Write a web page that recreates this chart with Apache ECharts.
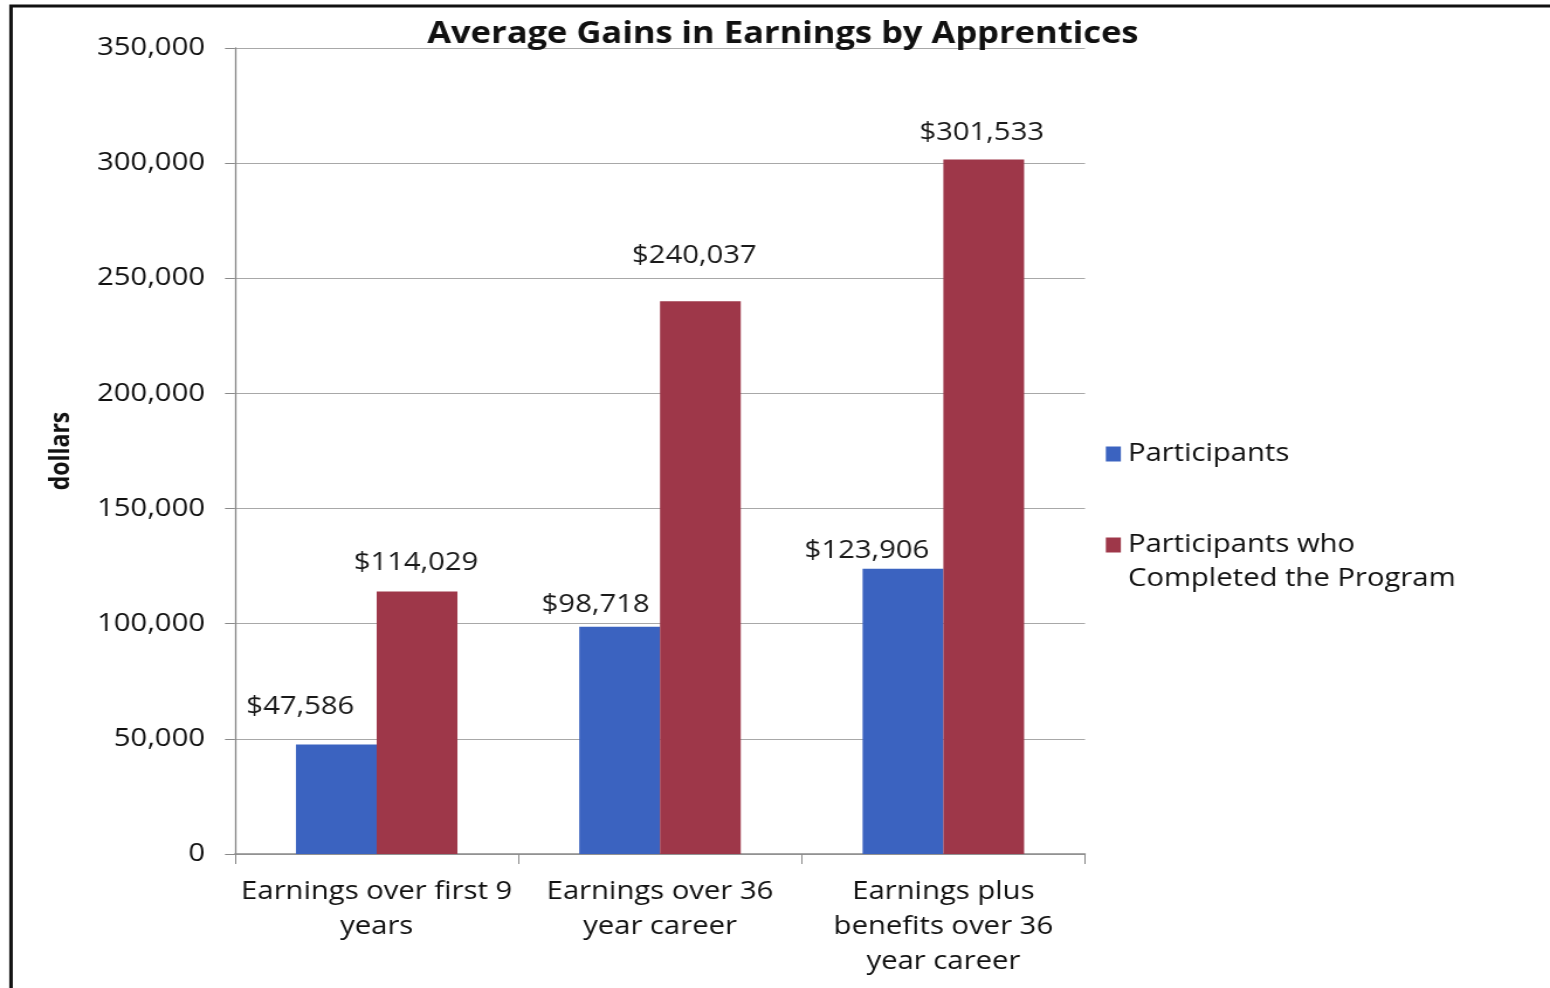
<!DOCTYPE html>
<html>
<head>
<meta charset="utf-8">
<title>Average Gains in Earnings by Apprentices</title>
<script src="https://cdn.jsdelivr.net/npm/echarts@6/dist/echarts.min.js"></script>
<style>
  html, body { margin: 0; padding: 0; background: #fff; overflow: hidden; }
  /* The chart is laid out on a narrower canvas and widened to fill the page,
     giving the broad, horizontally stretched look of the printed figure. */
  #chart { width: 1325px; height: 988px; transform-origin: 0 0; transform: scaleX(1.16981); }
</style>
</head>
<body>
<div id="chart"></div>
<script>
// Chart data
const categories = [
  'Earnings over first 9\nyears',
  'Earnings over 36\nyear career',
  'Earnings plus\nbenefits over 36\nyear career'
];
const participants = [47586, 98718, 123906];
const completed = [114029, 240037, 301533];
const yTicks = [0, 50000, 100000, 150000, 200000, 250000, 300000, 350000];

// Horizontal widening factor applied to the chart element (page px / chart px)
const STRETCH = 1550 / 1325;
const sx = px => px / STRETCH;

// Hand-placed data-label nudges [dx, dy] in page px so labels clear neighbouring bars
const participantLabelNudge = [[-36, -20], [-24, -4], [-36, 0]];
const completedLabelNudge = [[-1, -11], [-6, -28], [-2, -9]];

const FONT = '"Open Sans", "DejaVu Sans", sans-serif';
const money = v => '$' + Number(v).toLocaleString('en-US');

function withLabels(values, nudges) {
  return values.map((v, i) => ({
    value: v,
    label: { offset: [sx(nudges[i][0]), nudges[i][1]] }
  }));
}

const chart = echarts.init(document.getElementById('chart'), null, { renderer: 'canvas' });

chart.setOption({
  backgroundColor: '#ffffff',
  animation: false,
  title: {
    text: 'Average Gains in Earnings by Apprentices',
    left: sx(777),
    textAlign: 'center',
    top: 15,
    textStyle: { fontFamily: FONT, fontSize: 29.5, fontWeight: 'bold', color: '#111' }
  },
  graphic: [{
    type: 'rect',
    shape: { x: sx(11), y: 6, width: 1500, height: 1100 },
    style: { fill: null, stroke: '#111', lineWidth: 3 },
    silent: true,
    z: 100
  }],
  legend: {
    orient: 'vertical',
    left: sx(1100),
    top: 432,
    itemWidth: sx(15),
    itemHeight: 15,
    itemGap: 23,
    icon: 'rect',
    selectedMode: false,
    data: ['Participants', 'Participants who Completed the Program'],
    formatter: name => name === 'Participants'
      ? name
      : '\nParticipants who\nCompleted the Program',
    textStyle: { fontFamily: FONT, fontSize: 25, color: '#111', lineHeight: 34, padding: [0, 0, 0, 1] }
  },
  grid: { left: sx(235), right: sx(1550 - 1085), top: 48, bottom: 134, containLabel: false },
  xAxis: {
    type: 'category',
    data: categories,
    axisLine: { lineStyle: { color: '#8a8a8a', width: 1.5 } },
    axisTick: { show: true, length: 10, alignWithLabel: false, lineStyle: { color: '#8a8a8a' } },
    axisLabel: {
      interval: 0,
      margin: 20,
      fontFamily: FONT, fontSize: 25, color: '#111', lineHeight: 35
    }
  },
  yAxis: {
    type: 'value',
    min: yTicks[0],
    max: yTicks[yTicks.length - 1],
    interval: yTicks[1] - yTicks[0],
    name: 'dollars',
    nameLocation: 'middle',
    nameGap: sx(160),
    nameTextStyle: { fontFamily: FONT, fontSize: 23, fontWeight: 'bold', color: '#111' },
    axisLine: { show: true, lineStyle: { color: '#8a8a8a', width: 1.3 } },
    axisTick: { show: true, length: sx(10), lineStyle: { color: '#8a8a8a' } },
    splitLine: { lineStyle: { color: '#a8a8a8', width: 1.2 } },
    axisLabel: {
      margin: sx(30),
      fontFamily: FONT, fontSize: 25, color: '#111',
      formatter: v => Number(v).toLocaleString('en-US')
    }
  },
  series: [
    {
      name: 'Participants',
      type: 'bar',
      data: withLabels(participants, participantLabelNudge),
      barGap: '0%',
      barCategoryGap: '43%',
      itemStyle: { color: '#3b63c0' },
      label: {
        show: true, position: 'top', distance: 5,
        fontFamily: FONT, fontSize: 25, color: '#1a1a1a',
        formatter: p => money(p.value)
      }
    },
    {
      name: 'Participants who Completed the Program',
      type: 'bar',
      data: withLabels(completed, completedLabelNudge),
      barGap: '0%',
      barCategoryGap: '43%',
      itemStyle: { color: '#9e3749' },
      label: {
        show: true, position: 'top', distance: 5,
        fontFamily: FONT, fontSize: 25, color: '#1a1a1a',
        formatter: p => money(p.value)
      }
    }
  ]
});
</script>
</body>
</html>
